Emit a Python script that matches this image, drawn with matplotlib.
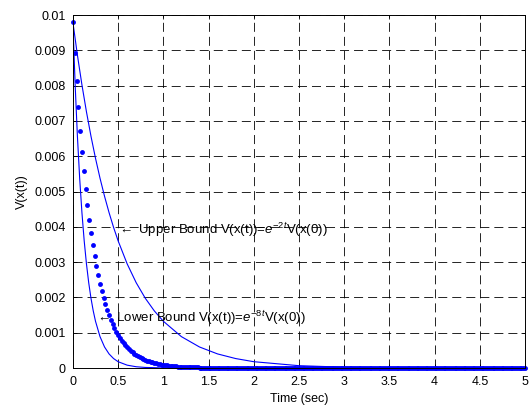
import numpy as np
import matplotlib
matplotlib.use('Agg')
import matplotlib.pyplot as plt

plt.rcParams['font.family'] = ['Liberation Sans', 'DejaVu Sans']
plt.rcParams['mathtext.fontset'] = 'custom'
plt.rcParams['mathtext.rm'] = 'Liberation Sans'
plt.rcParams['mathtext.it'] = 'Liberation Sans:italic'
plt.rcParams['lines.scale_dashes'] = False

# simulated trajectory V(x(t)), sampled every 0.02 s
t_sim = np.arange(0, 5.001, 0.02)
V_head = [0.009800, 0.008921, 0.008120, 0.007392, 0.006729, 0.006125, 0.005576, 0.005075, 0.004620, 0.004205,
          0.003828, 0.003485, 0.003172, 0.002887, 0.002628, 0.002393, 0.002178, 0.001983, 0.001805, 0.001643,
          0.001495, 0.001361, 0.001239, 0.001128, 0.001027, 0.000935, 0.000851, 0.000774, 0.000705, 0.000642,
          0.000584, 0.000532, 0.000484, 0.000441, 0.000401, 0.000365, 0.000332, 0.000303, 0.000275, 0.000251,
          0.000228, 0.000208, 0.000189, 0.000172, 0.000157, 0.000143, 0.000130, 0.000118, 0.000108, 0.000098,
          0.000089, 0.000081, 0.000074, 0.000067, 0.000061, 0.000056, 0.000051, 0.000046, 0.000042, 0.000038,
          0.000035, 0.000032, 0.000029, 0.000026, 0.000024, 0.000022, 0.000020, 0.000018, 0.000016, 0.000015,
          0.000013, 0.000012, 0.000011, 0.000010, 0.000009, 0.000008]
V_sim = V_head + [0.0] * (len(t_sim) - len(V_head))

# upper bound curve
t_up = [0, 0.05, 0.1, 0.15, 0.2, 0.25, 0.3, 0.35, 0.4, 0.45, 0.5, 0.6, 0.7, 0.8, 0.9, 1.0,
        1.2, 1.4, 1.6, 1.8, 2.0, 2.5, 3.0, 3.5, 4.0, 5.0]
V_up = [0.009800, 0.008867, 0.008024, 0.007260, 0.006569, 0.005944, 0.005378, 0.004867, 0.004403, 0.003984,
        0.003605, 0.002952, 0.002417, 0.001979, 0.001620, 0.001326, 0.000889, 0.000596, 0.000399, 0.000268,
        0.000179, 0.000066, 0.000024, 0.000009, 0.000003, 0.0000004]

# lower bound curve
t_low = [0, 0.025, 0.05, 0.075, 0.1, 0.125, 0.15, 0.175, 0.2, 0.225, 0.25, 0.3, 0.35, 0.4, 0.45, 0.5,
         0.6, 0.7, 0.8, 1.0, 1.5, 5.0]
V_low = [0.009800, 0.008024, 0.006569, 0.005378, 0.004403, 0.003605, 0.002952, 0.002417, 0.001979, 0.001620,
         0.001326, 0.000889, 0.000596, 0.000399, 0.000268, 0.000179, 0.000081, 0.000036, 0.000016, 0.000003,
         0.0, 0.0]

xticks = [0, 0.5, 1, 1.5, 2, 2.5, 3, 3.5, 4, 4.5, 5]
xtick_labels = ['0', '0.5', '1', '1.5', '2', '2.5', '3', '3.5', '4', '4.5', '5']
yticks = [0, 0.001, 0.002, 0.003, 0.004, 0.005, 0.006, 0.007, 0.008, 0.009, 0.01]
ytick_labels = ['0', '0.001', '0.002', '0.003', '0.004', '0.005', '0.006', '0.007', '0.008', '0.009', '0.01']

fig = plt.figure(figsize=(5.32, 4.08), dpi=100)
ax = fig.add_axes([0.137, 0.098, 0.850, 0.865])

ax.plot(t_up, V_up, color='#0000ff', lw=0.8)
ax.plot(t_low, V_low, color='#0000ff', lw=0.8)
ax.plot(t_sim, V_sim, 'o', color='#0000ff', ms=3.5, mew=0, clip_on=False)

ax.text(0.49, 0.0039, r'$\leftarrow$ Upper Bound V(x(t))=$e^{-2t}$V(x(0))', fontsize=9.5, va='center', ha='left')
ax.text(0.245, 0.00143, r'$\leftarrow$ Lower Bound V(x(t))=$e^{-8t}$V(x(0))', fontsize=9.5, va='center', ha='left')

ax.set_xlim(0, 5)
ax.set_ylim(0, 0.01)
ax.set_xticks(xticks)
ax.set_xticklabels(xtick_labels)
ax.set_yticks(yticks)
ax.set_yticklabels(ytick_labels)
ax.tick_params(direction='in', top=True, right=True, labelsize=9, length=3, width=0.6)
ax.tick_params(axis='x', pad=6)
ax.tick_params(axis='y', pad=5)
ax.grid(True, color='k', lw=0.6, linestyle=(0, (6.5, 3.6)))
for s in ax.spines.values():
    s.set_linewidth(0.7)

ax.set_xlabel('Time (sec)', fontsize=9, labelpad=3)
ax.set_ylabel('V(x(t))', fontsize=9, labelpad=5)

fig.savefig('out.png', dpi=100)
